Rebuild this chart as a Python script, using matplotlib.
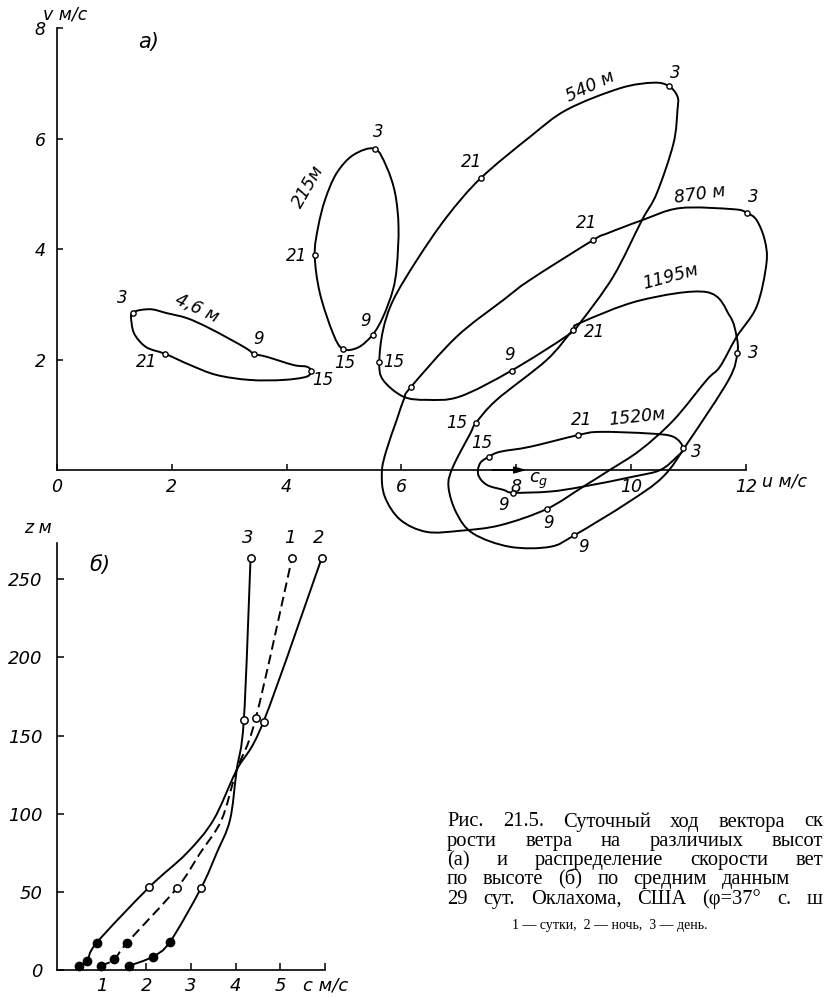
import matplotlib
matplotlib.use("Agg")
import matplotlib.pyplot as plt
import numpy as np
from matplotlib.path import Path
from matplotlib.patches import PathPatch

# ---- panel a): hodographs, u and v in m/s, traced along each loop from the 3 h point
hours = ['3', '9', '15', '21']

h46_u = [1.32, 1.62, 1.91, 2.26, 2.61, 3.01, 3.30, 3.44, 3.65, 4.12, 4.35, 4.42, 4.35, 3.94, 3.36, 2.78, 2.32, 1.89, 1.56, 1.36, 1.30]
h46_v = [2.85, 2.91, 2.84, 2.75, 2.59, 2.37, 2.20, 2.10, 2.05, 1.90, 1.87, 1.80, 1.69, 1.63, 1.63, 1.72, 1.90, 2.10, 2.22, 2.44, 2.66]
h46_pu = [1.32, 3.44, 4.42, 1.89]
h46_pv = [2.85, 2.10, 1.80, 2.10]
h46_lu = [1.13, 3.51, 4.63, 1.56]
h46_lv = [3.11, 2.37, 1.63, 1.96]

h215_u = [5.535, 5.74, 5.89, 5.95, 5.92, 5.85, 5.68, 5.50, 5.25, 4.98, 4.81, 4.58, 4.49, 4.55, 4.67, 4.87, 5.16]
h215_v = [5.815, 5.49, 5.01, 4.40, 3.68, 3.25, 2.77, 2.45, 2.22, 2.19, 2.47, 3.20, 3.89, 4.40, 4.89, 5.37, 5.70]
h215_pu = [5.535, 5.50, 4.98, 4.49]
h215_pv = [5.815, 2.45, 2.19, 3.89]
h215_lu = [5.60, 5.37, 5.02, 4.18]
h215_lv = [6.12, 2.70, 1.94, 3.87]

h540_u = [10.657, 10.81, 10.81, 10.74, 10.45, 10.19, 9.69, 9.11, 8.90, 7.92, 7.02, 6.44, 6.03, 5.68, 5.615, 5.68, 5.86, 6.27, 6.79, 7.38, 8.24, 8.88, 9.81, 10.39]
h540_v = [6.950, 6.76, 6.52, 5.91, 5.01, 4.52, 3.50, 2.66, 2.44, 1.80, 1.33, 1.27, 1.33, 1.63, 1.949, 2.53, 3.08, 3.80, 4.58, 5.28, 6.03, 6.52, 6.91, 7.01]
h540_pu = [10.657, 7.92, 5.615, 7.38]
h540_pv = [6.950, 1.80, 1.949, 5.28]
h540_lu = [10.78, 7.88, 5.86, 7.22]
h540_lv = [7.19, 2.08, 1.95, 5.58]

h870_u = [12.016, 12.19, 12.33, 12.36, 12.19, 11.84, 11.55, 11.32, 10.74, 10.16, 9.63, 9.17, 8.531, 7.72, 7.02, 6.44, 5.98, 5.71, 5.66, 5.74, 5.92, 6.05, 6.162, 6.96, 7.78, 8.24, 9.343, 9.58, 10.19, 10.85, 11.78]
h870_v = [4.657, 4.52, 4.16, 3.74, 2.96, 2.41, 1.87, 1.63, 0.90, 0.36, 0.00, -0.30, -0.706, -1.00, -1.10, -1.12, -0.90, -0.48, -0.03, 0.36, 0.91, 1.30, 1.497, 2.41, 3.08, 3.44, 4.163, 4.28, 4.52, 4.74, 4.72]
h870_pu = [12.016, 8.531, 6.162, 9.343]
h870_pv = [4.657, -0.706, 1.497, 4.163]
h870_lu = [12.13, 8.56, None, 9.23]
h870_lv = [4.95, -0.96, None, 4.47]

h1195_u = [11.852, 11.70, 11.00, 10.56, 9.93, 9.012, 8.59, 7.89, 7.25, 6.96, 6.82, 6.90, 7.20, 7.294, 7.66, 8.53, 8.984, 9.11, 10.16, 11.32, 11.72, 11.84]
h1195_v = [2.112, 1.63, 0.51, -0.12, -0.60, -1.182, -1.39, -1.39, -1.15, -0.78, -0.30, 0.06, 0.66, 0.845, 1.27, 1.99, 2.534, 2.66, 3.07, 3.22, 2.79, 2.41]
h1195_pu = [11.852, 9.012, 7.294, 8.984]
h1195_pv = [2.112, -1.182, 0.845, 2.534]
h1195_lu = [12.13, 9.17, 6.96, 9.37]
h1195_lv = [2.11, -1.39, 0.85, 2.50]

h1520_u = [10.911, 10.80, 10.51, 10.04, 9.17, 8.59, 7.950, 7.78, 7.49, 7.34, 7.37, 7.526, 7.72, 8.24, 9.082, 9.46, 10.33, 10.74]
h1520_v = [0.393, 0.24, 0.00, -0.12, -0.30, -0.39, -0.411, -0.36, -0.27, -0.09, 0.12, 0.241, 0.33, 0.42, 0.633, 0.69, 0.66, 0.60]
h1520_pu = [10.911, 7.950, 7.526, 9.082]
h1520_pv = [0.393, -0.411, 0.241, 0.633]
h1520_lu = [11.14, 7.78, 7.40, 9.14]
h1520_lv = [0.33, -0.63, 0.48, 0.90]

height_names = ['4,6 м', '215м', '540 м', '870 м', '1195м', '1520м']
height_lu = [2.43, 4.38, 9.29, 11.20, 10.68, 10.10]
height_lv = [2.93, 5.13, 6.94, 4.98, 3.50, 0.96]
height_rot = [-25, 60, 25, 8, 15, 6]

cg_u = 8.18

# ---- panel б): wind speed profiles c (m/s) vs height z (m)
day_c = [1.62, 2.14, 2.53, 3.22, 3.57, 3.87, 4.02, 4.18, 4.33]
day_z = [2.75, 8.5, 18.1, 52.3, 74.7, 96, 128, 160, 263.4]
mean_c = [0.98, 1.28, 1.57, 2.68, 3.20, 3.68, 4.02, 4.45, 5.26]
mean_z = [2.75, 6.8, 17.5, 52.3, 74.7, 96, 128, 161.4, 263.8]
night_c = [0.49, 0.68, 0.89, 2.06, 2.90, 3.50, 4.02, 4.62, 5.92]
night_z = [2.75, 6.0, 17.5, 52.9, 74.7, 96, 128, 158.9, 263.4]
obs_idx = [0, 1, 2, 3, 7, 8]        # measured levels among the traced points

caption = [['Рис.', '21.5.', 'Суточный', 'ход', 'вектора', 'ск'],
           ['рости', 'ветра', 'на', 'различиых', 'высот'],
           ['(а)', 'и', 'распределение', 'скорости', 'вет'],
           ['по', 'высоте', '(б)', 'по', 'средним', 'данным'],
           ['29', 'сут.', 'Оклахома,', 'США', '(φ=37°', 'с.', 'ш']]
caption_right = [823, 823, 823, 790, 823]
legend_line = '1 — сутки,  2 — ночь,  3 — день.'


def smooth(xs, ys, closed):
    # Catmull-Rom through the traced points, as cubic Bezier segments
    p = np.column_stack([xs, ys]).astype(float)
    if closed:
        ext = np.vstack([p[-1], p, p[0], p[1]])
    else:
        ext = np.vstack([p[0], p, p[-1]])
    verts = [ext[1]]
    codes = [Path.MOVETO]
    for i in range(1, len(ext) - 2):
        p0, p1, p2, p3 = ext[i - 1], ext[i], ext[i + 1], ext[i + 2]
        verts += [p1 + (p2 - p0) / 6, p2 - (p3 - p1) / 6, p2]
        codes += [Path.CURVE4] * 3
    return Path(verts, codes)


plt.rcParams['font.family'] = ['DejaVu Sans']
plt.rcParams['font.style'] = 'italic'

W, H = 825, 997
fig = plt.figure(figsize=(W / 100, H / 100), dpi=100)

# ---------------- panel a)
ax = fig.add_axes([0, 1 - 560 / H, 1, 560 / H])
ax.set_xlim(-0.993, 13.380)
ax.set_ylim(-1.629, 8.507)
ax.patch.set_visible(False)
for s in ('top', 'right'):
    ax.spines[s].set_visible(False)
ax.spines['left'].set_position(('data', 0))
ax.spines['left'].set_bounds(0, 8)
ax.spines['bottom'].set_position(('data', 0))
ax.spines['bottom'].set_bounds(0, 12)
for s in ('left', 'bottom'):
    ax.spines[s].set_linewidth(1.2)
ax.set_xticks([0, 2, 4, 6, 8, 10, 12])
ax.set_yticks([2, 4, 6, 8])
ax.tick_params(direction='in', length=4.5, width=1.1, labelsize=12.5)
ax.tick_params(axis='x', pad=6)
ax.tick_params(axis='y', pad=8)

loops = [(h46_u, h46_v, h46_pu, h46_pv, h46_lu, h46_lv),
         (h215_u, h215_v, h215_pu, h215_pv, h215_lu, h215_lv),
         (h540_u, h540_v, h540_pu, h540_pv, h540_lu, h540_lv),
         (h870_u, h870_v, h870_pu, h870_pv, h870_lu, h870_lv),
         (h1195_u, h1195_v, h1195_pu, h1195_pv, h1195_lu, h1195_lv),
         (h1520_u, h1520_v, h1520_pu, h1520_pv, h1520_lu, h1520_lv)]

for tu, tv, pu, pv, lu, lv in loops:
    ax.add_patch(PathPatch(smooth(tu, tv, True), fill=False, ec='black', lw=1.4, zorder=2))
    ax.plot(pu, pv, 'o', ms=3.8, mfc='white', mec='black', mew=1.0, zorder=3, clip_on=False)
    for h, x, y in zip(hours, lu, lv):
        if x is not None:
            ax.text(x, y, h, fontsize=12, ha='center', va='center')

for name, x, y, r in zip(height_names, height_lu, height_lv, height_rot):
    ax.text(x, y, name, fontsize=12.5, ha='center', va='center', rotation=r,
            rotation_mode='anchor')

ax.annotate('', xy=(cg_u, 0), xytext=(cg_u - 0.6, 0),
            arrowprops=dict(arrowstyle='-|>,head_length=0.7,head_width=0.2',
                            color='black', lw=1.2, shrinkA=0, shrinkB=0))
ax.text(cg_u + 0.05, -0.2, r'$c_g$', fontsize=13, ha='left', va='center')
ax.text(12.28, -0.21, 'u м/с', fontsize=12.5, ha='left', va='center')
ax.text(0.14, 8.25, 'v м/с', fontsize=12.5, ha='center', va='center')
ax.text(1.6, 7.75, 'а)', fontsize=15, ha='center', va='center')

# ---------------- panel б)
bx = fig.add_axes([0, 0, 380 / W, 477 / H])
bx.set_xlim(-1.275, 7.226)
bx.set_ylim(-17.28, 287.9)
bx.patch.set_visible(False)
for s in ('top', 'right'):
    bx.spines[s].set_visible(False)
bx.spines['left'].set_position(('data', 0))
bx.spines['left'].set_bounds(0, 273)
bx.spines['bottom'].set_position(('data', 0))
bx.spines['bottom'].set_bounds(0, 6)
for s in ('left', 'bottom'):
    bx.spines[s].set_linewidth(1.2)
bx.set_xticks([1, 2, 3, 4, 5, 6])
bx.set_xticklabels(['1', '2', '3', '4', '5', 'c м/с'])
bx.set_yticks([0, 50, 100, 150, 200, 250])
bx.tick_params(direction='in', length=5, width=1.1, labelsize=13)
bx.tick_params(axis='x', pad=5)
bx.tick_params(axis='y', pad=10.5)

profiles = [(day_c, day_z, '-'), (mean_c, mean_z, (0, (5, 2.6))), (night_c, night_z, '-')]
for cc, zz, ls in profiles:
    bx.add_patch(PathPatch(smooth(cc, zz, False), fill=False, ec='black', lw=1.4,
                           ls=ls, zorder=2))
    oc = np.array(cc)[obs_idx]
    oz = np.array(zz)[obs_idx]
    low = oz < 30
    bx.plot(oc[low], oz[low], 'o', ms=6, color='black', zorder=3)
    bx.plot(oc[~low], oz[~low], 'o', ms=5.3, mfc='white', mec='black', mew=1.1, zorder=3)

for lab, cc in zip(['3', '1', '2'], [day_c, mean_c, night_c]):
    bx.text(cc[-1] - 0.06, 276.5, lab, fontsize=13, ha='center', va='center')
bx.text(0.96, 259, 'б)', fontsize=15, ha='center', va='center')
bx.text(-0.43, 283, 'z м', fontsize=12.5, ha='center', va='center')

# ---------------- caption, justified between a left and a right edge
renderer = fig.canvas.get_renderer()
for i, (words, right) in enumerate(zip(caption, caption_right)):
    y = 1 - (822 + 19.3 * i) / H
    items = [fig.text(0, y, w, fontsize=14.8, style='normal', family='Liberation Serif',
                      ha='left', va='center') for w in words]
    widths = [t.get_window_extent(renderer).width for t in items]
    gap = (right - 447 - sum(widths)) / (len(words) - 1)
    x = 447
    for t, w in zip(items, widths):
        t.set_x(x / W)
        x += w + gap
fig.text(512 / W, 1 - 925 / H, legend_line, fontsize=10, style='normal',
         family='Liberation Serif', ha='left', va='center')

fig.savefig('out.png', dpi=100)
